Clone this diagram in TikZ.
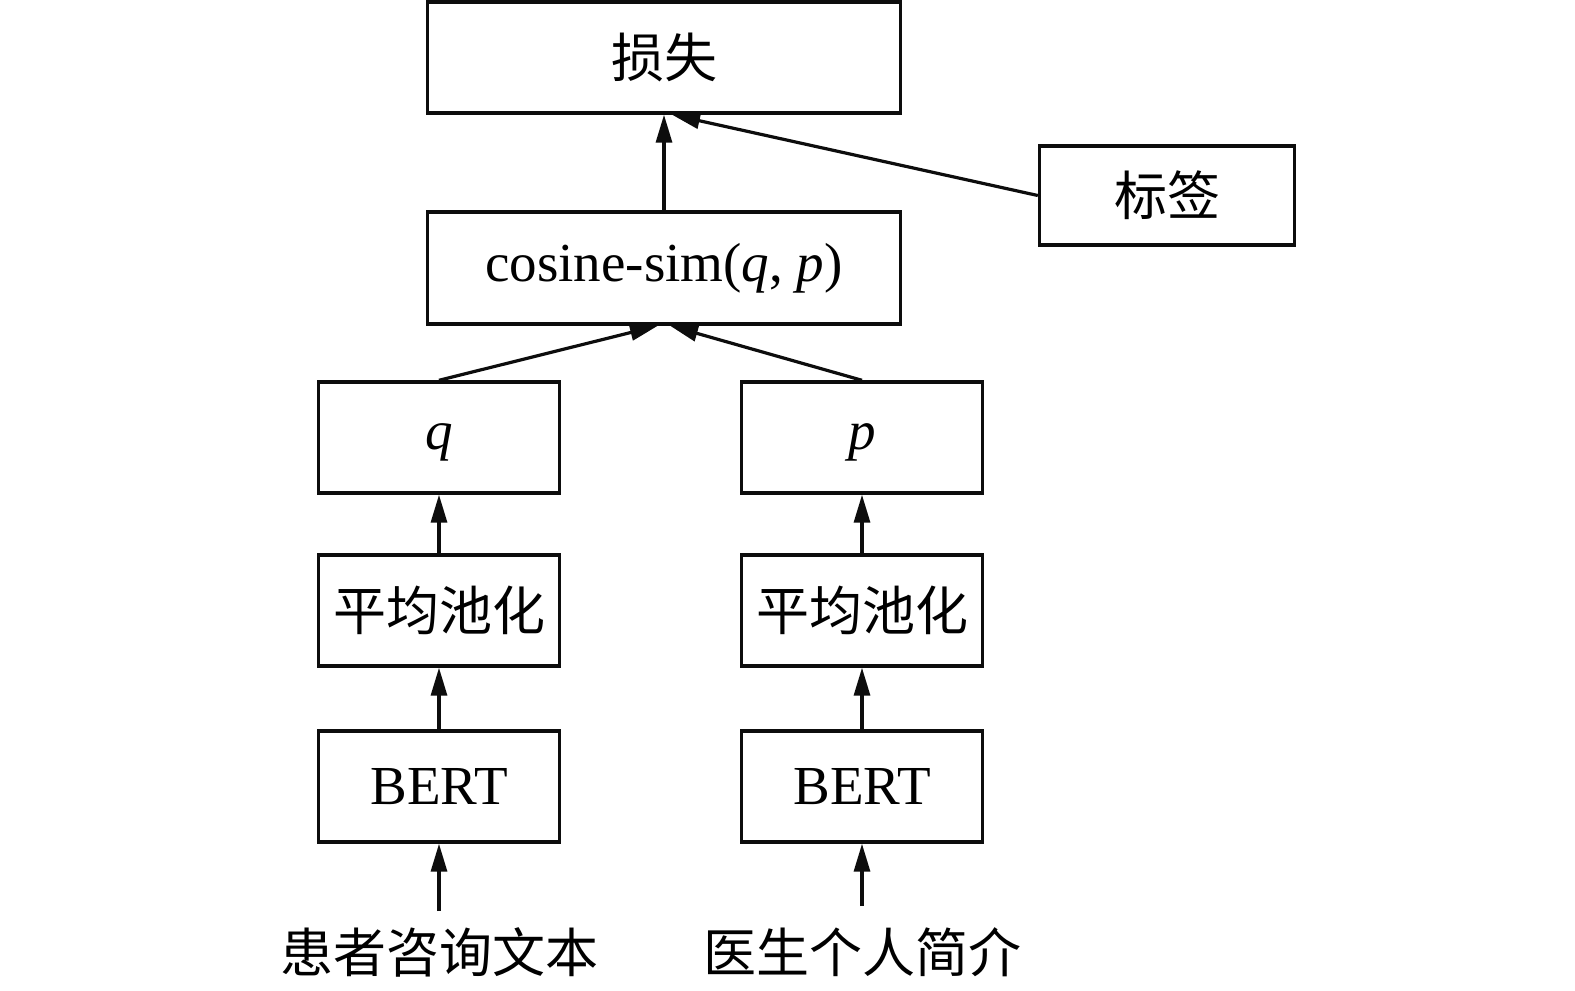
\documentclass[tikz,border=0pt]{standalone}
\usepackage{fontspec}
\setmainfont{Liberation Serif}
\newfontfamily\cjk{Noto Sans CJK SC}
\usetikzlibrary{arrows.meta}
\begin{document}
\begin{tikzpicture}[x=1pt,y=-1pt,
  box/.style={draw=black!95,line width=3.4pt,rectangle,inner sep=0pt,
    minimum width=241pt,minimum height=111pt,font=\fontsize{55}{60}\selectfont},
  wide/.style={box,minimum width=473pt},
  cn/.style={font=\fontsize{53}{58}\selectfont\cjk},
  arr/.style={line width=3.2pt,draw=black!95,-{Triangle[length=28pt,width=16pt]}}]
\useasboundingbox (0,0) rectangle (1575,991);
\node[wide] (loss) at (664,57.5) {\cjk\fontsize{53}{58}\selectfont 损失};
\node[wide,minimum height=112pt] (cos) at (664,268) {cosine-sim(\textit{q}, \textit{p})};
\node[box,minimum width=255pt,minimum height=99pt] (label) at (1167,195.5) {\cjk\fontsize{53}{58}\selectfont 标签};
\node[box] (q) at (439,437.5) {\smash{\raisebox{-12pt}{\textit{q}}}};
\node[box] (p) at (862,437.5) {\smash{\raisebox{-12pt}{\textit{p}}}};
\node[box] (pool1) at (439,610.5) {\cjk\fontsize{53}{58}\selectfont 平均池化};
\node[box] (pool2) at (862,610.5) {\cjk\fontsize{53}{58}\selectfont 平均池化};
\node[box] (bert1) at (439,786.5) {BERT};
\node[box] (bert2) at (862,786.5) {BERT};
\node[cn] (in1) at (439,952) {患者咨询文本};
\node[cn] (in2) at (862,952) {医生个人简介};
\coordinate (s1) at (439,911);
\coordinate (s2) at (862,906);
\draw[arr] (s1) -- (bert1.south);
\draw[arr] (s2) -- (bert2.south);
\draw[arr] (bert1) -- (pool1);
\draw[arr] (bert2) -- (pool2);
\draw[arr] (pool1) -- (q);
\draw[arr] (pool2) -- (p);
\draw[arr] (q.north) -- ([xshift=-6pt]cos.south);
\draw[arr] (p.north) -- ([xshift=6pt]cos.south);
\draw[arr] (cos) -- (loss);
\draw[arr] (label.west) -- ([xshift=8pt]loss.south);
\end{tikzpicture}
\end{document}
